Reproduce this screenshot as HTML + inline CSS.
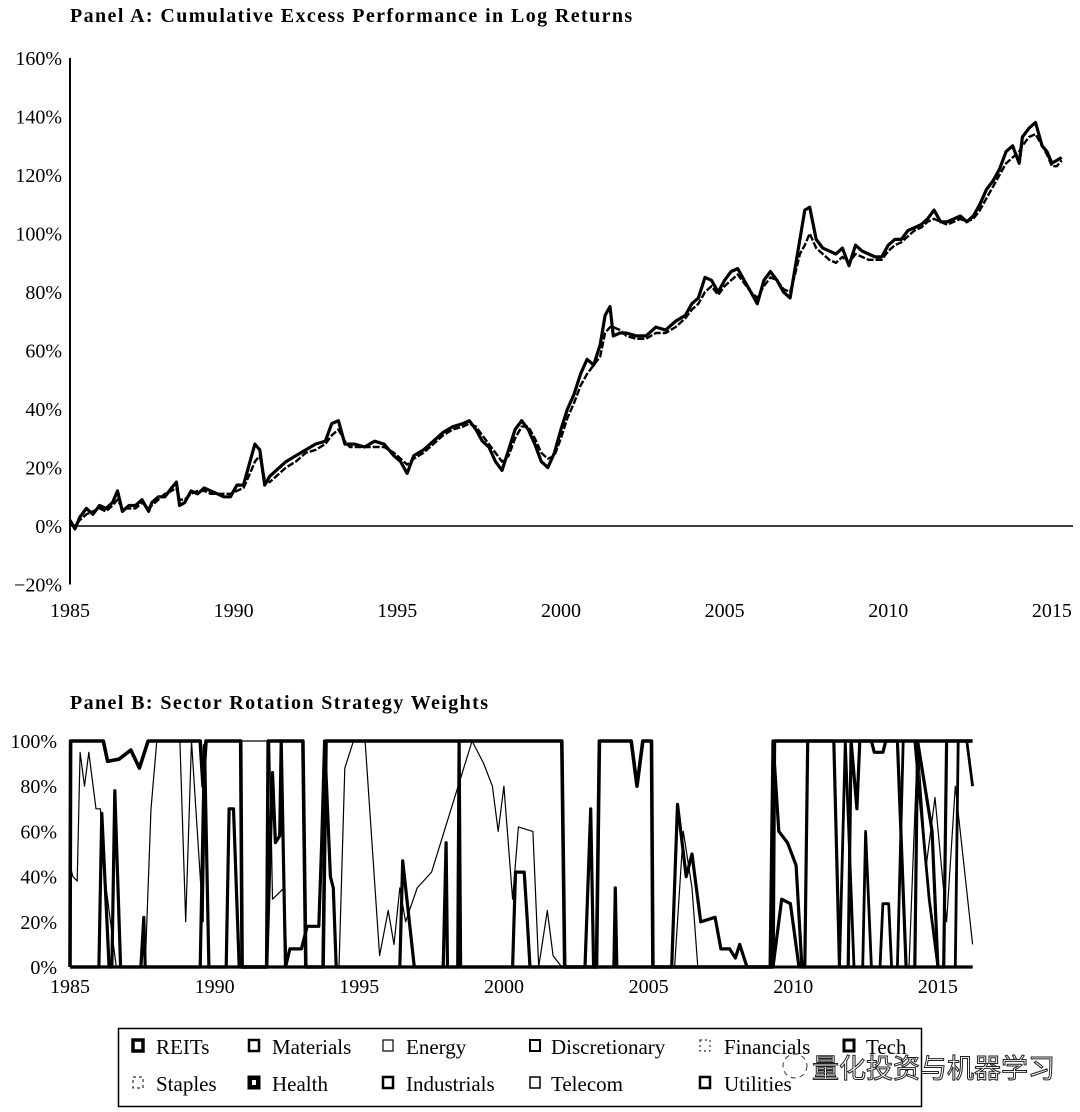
<!DOCTYPE html>
<html><head><meta charset="utf-8"><style>
html,body{margin:0;padding:0;background:#fff;}
svg{display:block;font-family:"Liberation Serif","Noto Serif CJK SC",serif;}
</style></head><body>
<svg id="chart" width="1080" height="1112" viewBox="0 0 1080 1112" xmlns="http://www.w3.org/2000/svg">
<text x="70" y="22" font-size="20" font-weight="bold" letter-spacing="1.4">Panel A: Cumulative Excess Performance in Log Returns</text>
<g id="panelA"></g>
<text x="70" y="709" font-size="20" font-weight="bold" letter-spacing="1.4">Panel B: Sector Rotation Strategy Weights</text>
<g id="panelB"></g>
<g>
<rect x="118.5" y="1028.5" width="803" height="78" fill="none" stroke="#000" stroke-width="1.5"/>
<g font-size="21">
<g><rect x="133" y="1040" width="10" height="11" fill="none" stroke="#000" stroke-width="3.5"/><text x="156" y="1054">REITs</text></g>
<g><rect x="249" y="1040" width="10" height="11" fill="none" stroke="#000" stroke-width="2.5"/><text x="272" y="1054">Materials</text></g>
<g><rect x="383" y="1040" width="10" height="11" fill="none" stroke="#000" stroke-width="1.2"/><text x="406" y="1054">Energy</text></g>
<g><rect x="530" y="1040" width="10" height="11" fill="none" stroke="#000" stroke-width="2"/><text x="551" y="1054">Discretionary</text></g>
<g><rect x="700" y="1040" width="10" height="11" fill="none" stroke="#000" stroke-width="1" stroke-dasharray="2,3"/><text x="724" y="1054">Financials</text></g>
<g><rect x="844" y="1040" width="10" height="11" fill="none" stroke="#000" stroke-width="3"/><text x="866" y="1054">Tech</text></g>
<g><rect x="133" y="1077" width="10" height="11" fill="none" stroke="#000" stroke-width="1" stroke-dasharray="3,3"/><text x="156" y="1091">Staples</text></g>
<g><rect x="249" y="1077" width="10" height="11" fill="#000" stroke="#000" stroke-width="3"/><rect x="252" y="1080" width="4" height="5" fill="#fff"/><text x="272" y="1091">Health</text></g>
<g><rect x="383" y="1077" width="10" height="11" fill="none" stroke="#000" stroke-width="2.5"/><text x="406" y="1091">Industrials</text></g>
<g><rect x="530" y="1077" width="10" height="11" fill="none" stroke="#000" stroke-width="1.5"/><text x="551" y="1091">Telecom</text></g>
<g><rect x="700" y="1077" width="10" height="11" fill="none" stroke="#000" stroke-width="2.5"/><text x="724" y="1091">Utilities</text></g>
</g>
</g>
<g>
<circle cx="795" cy="1066" r="12" fill="none" stroke="#333" stroke-width="1" stroke-dasharray="5,4"/>
<text x="812" y="1078" font-size="27" fill="#fff" stroke="#222" stroke-width="1" font-family="'Noto Sans CJK SC',sans-serif">量化投资与机器学习</text>
</g>
</svg>
<script>
// ---------- Panel A data ----------
const datesA = [1985.0,1985.15,1985.3,1985.5,1985.7,1985.9,1986.1,1986.3,1986.45,1986.6,1986.8,1987.0,1987.2,1987.4,1987.5,1987.7,1987.9,1988.1,1988.25,1988.35,1988.5,1988.7,1988.9,1989.1,1989.3,1989.5,1989.7,1989.9,1990.1,1990.3,1990.5,1990.65,1990.8,1990.95,1991.1,1991.3,1991.6,1991.9,1992.2,1992.5,1992.8,1993.0,1993.2,1993.4,1993.55,1993.7,1994.0,1994.3,1994.6,1994.9,1995.1,1995.3,1995.5,1995.8,1996.1,1996.4,1996.7,1997.0,1997.2,1997.4,1997.6,1997.8,1998.0,1998.2,1998.4,1998.6,1998.8,1999.0,1999.2,1999.4,1999.6,1999.8,2000.0,2000.2,2000.4,2000.6,2000.8,2001.0,2001.2,2001.35,2001.5,2001.6,2001.8,2002.0,2002.3,2002.6,2002.9,2003.2,2003.5,2003.8,2004.0,2004.2,2004.4,2004.6,2004.8,2005.0,2005.2,2005.4,2005.6,2005.8,2006.0,2006.2,2006.4,2006.6,2006.8,2007.0,2007.15,2007.3,2007.45,2007.6,2007.8,2008.0,2008.2,2008.4,2008.6,2008.8,2009.0,2009.2,2009.4,2009.6,2009.8,2010.0,2010.2,2010.4,2010.6,2010.8,2011.0,2011.2,2011.4,2011.6,2011.8,2012.0,2012.2,2012.4,2012.6,2012.8,2013.0,2013.2,2013.4,2013.6,2013.8,2014.0,2014.1,2014.3,2014.5,2014.7,2014.85,2015.0,2015.15,2015.3,2015.45,2015.6];
const solidA = [2,-1,3,6,4,7,6,8,12,5,7,7,9,5,8,10,10,13,15,7,8,12,11,13,12,11,10,10,14,14,22,28,26,14,17,19,22,24,26,28,29,35,36,28,28,28,27,29,28,24,22,18,24,26,29,32,34,35,36,33,29,27,22,19,26,33,36,33,28,22,20,25,33,40,45,52,57,55,62,72,75,65,66,66,65,65,68,67,70,72,76,78,85,84,80,84,87,88,84,80,76,84,87,84,80,78,88,98,108,109,98,95,94,93,95,89,96,94,93,92,92,96,98,98,101,102,103,105,108,104,104,105,106,104,106,110,115,118,122,128,130,124,133,136,138,130,128,124,125,126];
const dashedA = [1,0,2,4,5,6,5,7,9,6,6,6,8,6,7,9,11,12,13,9,9,11,12,12,11,11,11,11,12,13,18,22,24,16,15,17,20,22,25,26,28,31,33,29,27,27,27,27,27,25,23,21,23,25,28,31,33,34,35,34,31,28,25,22,24,30,34,34,30,25,23,24,30,37,42,48,52,55,58,66,68,68,67,65,64,64,66,66,68,71,74,76,80,82,79,82,84,86,83,80,78,82,85,84,81,80,86,93,96,100,95,93,91,90,92,90,93,92,91,91,91,94,96,97,99,101,102,104,105,104,103,104,105,104,105,108,112,116,120,124,126,128,130,133,134,130,127,123,123,125];
const yTicksA = [160,140,120,100,80,60,40,20,0,-20];
const xTicksA = [1985,1990,1995,2000,2005,2010,2015];

// ---------- Panel B data (year, weight%) ----------
const yearsB1 = [1985,1985.02,1986.15,1986.3,1986.7,1987.1,1987.4,1987.7,1989.5,1989.6,1989.7,1990.9,1990.95,1991.8,1991.85,1993.05,1993.15,1993.75,1993.85,2002.0,2002.1,2003.2,2003.3,2004.4,2004.6,2004.8,2005.1,2005.15,2009.3,2009.35,2016.2];
const weightsB1 = [0,100,100,91,92,96,88,100,100,80,100,100,0,0,100,100,0,0,100,100,0,0,100,100,80,100,100,0,0,100,100];
const yearsB2 = [1985,1986.0,1986.1,1986.35,1986.45,1986.55,1986.75,1987.45,1987.55,1987.6,1989.5,1989.65,1989.8,1990.4,1990.5,1990.65,1990.85,1991.8,1992.0,1992.1,1992.25,1992.3,1992.45,1992.6,1993.0,1993.2,1993.6,1993.7,1993.8,1994.0,1994.1,1994.2,1996.4,1996.5,1996.9,1997.9,1998.0,1998.05,1998.4,1998.45,1998.5,2000.3,2000.4,2000.7,2000.8,2000.9,2002.8,2003.0,2003.1,2003.8,2003.85,2003.9,2005.8,2006.0,2006.3,2006.5,2006.8,2007.3,2007.5,2007.8,2008.0,2008.15,2008.4,2009.3,2009.6,2009.9,2010.2,2016.2];
const weightsB2 = [0,0,68,0,0,78,0,0,22,0,0,98,0,0,70,70,0,0,86,55,58,100,0,8,8,18,18,55,100,40,35,0,0,47,0,0,55,0,0,100,0,0,42,42,22,0,0,70,0,0,35,0,0,72,40,50,20,22,8,8,4,10,0,0,30,28,0,0];
const yearsB3 = [1985,2009.2,2009.3,2009.5,2009.8,2010.1,2010.3,2010.4,2010.5,2011.4,2011.6,2011.9,2012.0,2012.2,2012.3,2012.7,2012.8,2013.1,2013.2,2013.6,2013.9,2014.2,2014.3,2014.8,2015.0,2015.2,2015.3,2016.2];
const weightsB3 = [0,0,100,60,55,45,0,0,100,100,0,0,100,70,100,100,95,95,100,100,0,0,100,60,0,0,100,100];
const yearsB4 = [1985,2011.6,2011.8,2012.1,2012.4,2012.5,2012.7,2013.0,2013.1,2013.3,2013.4,2013.6,2013.8,2014.2,2014.7,2015.0,2015.6,2015.7,2016.0,2016.2];
const weightsB4 = [0,0,100,0,0,60,0,0,28,28,0,0,100,100,30,0,0,100,100,80];
const yearsB5 = [1985,1985.1,1985.25,1985.35,1985.5,1985.65,1985.9,1986.05,1986.2,1986.6,1987.6,1987.8,1988.0,1988.8,1989.0,1989.2,1989.6,1989.7,1991.9,1992.0,1992.4,1992.5,1994.3,1994.5,1994.8,1995.2,1995.7,1996.0,1996.2,1996.4,1996.6,1997.0,1997.5,1998.9,1999.3,1999.6,1999.8,2000.0,2000.3,2000.5,2001.0,2001.2,2001.5,2001.7,2002.0,2005.9,2006.2,2006.5,2006.7,2014.0,2014.3,2014.6,2014.9,2015.3,2015.6,2016.2];
const weightsB5 = [45,40,38,95,80,95,70,70,40,0,0,70,100,100,20,100,20,100,100,30,35,0,0,88,100,100,5,25,10,35,20,35,42,100,90,80,60,80,30,62,60,0,25,5,0,0,60,35,0,0,100,45,75,20,80,10];
const yTicksB = [100,80,60,40,20,0];
const xTicksB = [1985,1990,1995,2000,2005,2010,2015];

const NS = 'http://www.w3.org/2000/svg';
function mk(tag, attrs, parent){const e=document.createElementNS(NS,tag);for(const k in attrs)e.setAttribute(k,attrs[k]);parent.appendChild(e);return e;}

// Panel A scales
const xA = y => 70 + (y - 1985) * 32.73;
const yA = v => 526 - v * 2.925;
const gA = document.getElementById('panelA');
let e;
e = mk('line',{x1:70,y1:yA(160),x2:70,y2:yA(-20),stroke:'#000','stroke-width':2},gA);


e = mk('line',{x1:70,y1:yA(0),x2:1073,y2:yA(0),stroke:'#000','stroke-width':1.5},gA);


yTicksA.forEach(t=>{
  const tx = mk('text',{x:62,y:yA(t)+7,'font-size':20,'text-anchor':'end'},gA);
  tx.textContent = (t<0?'\u2212'+(-t):t)+'%';
  
  
});
xTicksA.forEach(t=>{
  const tx = mk('text',{x:Math.min(xA(t),1052),y:617,'font-size':20,'text-anchor':'middle'},gA);
  tx.textContent = t;
  
  
});
const ptsD = datesA.map((d,i)=>xA(d).toFixed(1)+','+yA(dashedA[i]).toFixed(1)).join(' ');
e = mk('polyline',{points:ptsD,fill:'none',stroke:'#000','stroke-width':2.4,'stroke-dasharray':'7,2','stroke-linejoin':'round'},gA);


const ptsS = datesA.map((d,i)=>xA(d).toFixed(1)+','+yA(solidA[i]).toFixed(1)).join(' ');
e = mk('polyline',{points:ptsS,fill:'none',stroke:'#000','stroke-width':3.2,'stroke-linejoin':'round'},gA);



// Panel B scales
const xB = y => 70 + (y - 1985) * 28.93;
const yB = v => 967 - v * 2.26;
const gB = document.getElementById('panelB');
yTicksB.forEach(t=>{
  const tx = mk('text',{x:57,y:yB(t)+7,'font-size':20,'text-anchor':'end'},gB);
  tx.textContent = t+'%';
  
  
});
xTicksB.forEach(t=>{
  const tx = mk('text',{x:xB(t),y:993,'font-size':20,'text-anchor':'middle'},gB);
  tx.textContent = t;
  
  
});
e = mk('line',{x1:70,y1:yB(0),x2:xB(2016.2),y2:yB(0),stroke:'#000','stroke-width':3},gB);


const seriesB = [
  [yearsB5, weightsB5, 1.2, 'staples-weight-line'],
  [yearsB2, weightsB2, 3.2, 'health-weight-line'],
  [yearsB3, weightsB3, 3.2, 'reits-weight-line'],
  [yearsB4, weightsB4, 2.8, 'tech-weight-line'],
  [yearsB1, weightsB1, 3.6, 'utilities-weight-line']
];
seriesB.forEach(s=>{
  const pts = s[0].map((d,i)=>xB(d).toFixed(1)+','+yB(s[1][i]).toFixed(1)).join(' ');
  const pl = mk('polyline',{points:pts,fill:'none',stroke:'#000','stroke-width':s[2],'stroke-linejoin':'round'},gB);
  
  
});
</script>
</body></html>
